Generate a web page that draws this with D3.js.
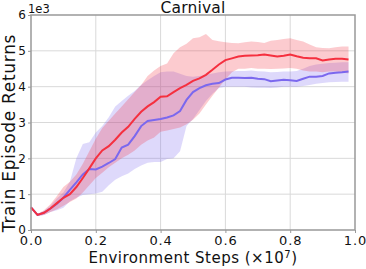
<!DOCTYPE html>
<html>
<head>
<meta charset="utf-8">
<script src="https://cdn.jsdelivr.net/npm/d3@7"></script>
<style>
  html, body { margin: 0; padding: 0; background: #fff; }
  svg { display: block; font-family: 'DejaVu Sans', sans-serif; }
</style>
</head>
<body>
<div id="chart"></div>
<script>
// Environment steps (x 1e7)
const steps = d3.range(50).map(i => +(i * 0.02).toFixed(2));

// Returns in thousands (axis carries the 1e3 offset)
const redMean = [0.63, 0.42, 0.48, 0.60, 0.75, 0.90, 1.00, 1.20, 1.45, 1.72,
  2.00, 2.22, 2.34, 2.52, 2.72, 2.88, 3.10, 3.30, 3.45, 3.57,
  3.72, 3.73, 3.85, 3.96, 4.05, 4.16, 4.23, 4.33, 4.47, 4.62,
  4.74, 4.79, 4.84, 4.86, 4.87, 4.88, 4.90, 4.87, 4.84, 4.86,
  4.90, 4.85, 4.81, 4.79, 4.79, 4.73, 4.76, 4.78, 4.78, 4.76];
const redLow = [0.60, 0.39, 0.42, 0.50, 0.58, 0.68, 0.78, 0.88, 1.05, 1.25,
  1.45, 1.60, 1.75, 1.88, 2.00, 2.10, 2.22, 2.38, 2.50, 2.58,
  2.74, 2.78, 2.82, 2.86, 2.95, 3.08, 3.25, 3.50, 3.75, 3.98,
  4.20, 4.40, 4.50, 4.50, 4.52, 4.50, 4.50, 4.49, 4.50, 4.51,
  4.52, 4.50, 4.45, 4.42, 4.42, 4.40, 4.42, 4.42, 4.40, 4.37];
const redHigh = [0.66, 0.45, 0.55, 0.72, 0.95, 1.20, 1.35, 1.55, 1.85, 2.20,
  2.55, 2.85, 3.05, 3.25, 3.45, 3.65, 3.85, 4.05, 4.30, 4.45,
  4.58, 4.65, 4.93, 5.10, 5.20, 5.35, 5.38, 5.47, 5.30, 5.27,
  5.24, 5.22, 5.21, 5.24, 5.26, 5.25, 5.22, 5.28, 5.30, 5.33,
  5.35, 5.30, 5.26, 5.18, 5.10, 5.08, 5.07, 5.10, 5.12, 5.12];

const blueMean = [0.63, 0.42, 0.48, 0.60, 0.73, 0.90, 1.12, 1.33, 1.55, 1.70,
  1.69, 1.77, 1.87, 1.98, 2.30, 2.38, 2.62, 2.90, 3.04, 3.07,
  3.10, 3.14, 3.20, 3.32, 3.63, 3.85, 3.96, 4.04, 4.08, 4.10,
  4.20, 4.25, 4.25, 4.24, 4.25, 4.22, 4.21, 4.15, 4.17, 4.19,
  4.18, 4.16, 4.22, 4.28, 4.28, 4.30, 4.37, 4.39, 4.40, 4.42];
const blueLow = [0.60, 0.39, 0.42, 0.50, 0.55, 0.62, 0.80, 0.90, 0.98, 1.00,
  1.02, 1.07, 1.25, 1.40, 1.50, 1.58, 1.70, 1.80, 1.88, 1.90,
  1.90, 1.98, 2.00, 2.20, 2.90, 3.10, 3.35, 3.60, 3.80, 3.96,
  4.00, 4.00, 4.00, 4.00, 3.98, 3.97, 3.97, 3.96, 3.98, 4.00,
  4.00, 4.00, 4.02, 4.05, 4.08, 4.10, 4.12, 4.13, 4.14, 4.14];
const blueHigh = [0.66, 0.45, 0.52, 0.68, 0.88, 1.05, 1.35, 2.00, 2.40, 2.45,
  2.72, 2.90, 3.15, 3.45, 3.60, 3.75, 3.88, 4.05, 4.18, 4.30,
  4.40, 4.42, 4.42, 4.36, 4.30, 4.28, 4.30, 4.33, 4.37, 4.40,
  4.42, 4.43, 4.44, 4.44, 4.45, 4.43, 4.42, 4.40, 4.41, 4.42,
  4.42, 4.44, 4.50, 4.58, 4.62, 4.64, 4.66, 4.67, 4.68, 4.68];

const xTicks = [0, 0.2, 0.4, 0.6, 0.8, 1.0];
const yTicks = [0, 1, 2, 3, 4, 5, 6];

const W = 366, H = 269;
const margin = { top: 15, right: 11, bottom: 39, left: 31 };
const width = W - margin.left - margin.right;
const height = H - margin.top - margin.bottom;

const svg = d3.select('#chart').append('svg')
  .attr('width', W)
  .attr('height', H);

const g = svg.append('g')
  .attr('transform', `translate(${margin.left},${margin.top})`);

const x = d3.scaleLinear().domain([0, 1]).range([0, width]);
const y = d3.scaleLinear().domain([0, 6]).range([height, 0]);

// Grid
g.append('g').selectAll('line').data(xTicks.slice(1, -1)).join('line')
  .attr('x1', d => x(d)).attr('x2', d => x(d))
  .attr('y1', 0).attr('y2', height)
  .attr('stroke', '#d9d9d9').attr('stroke-width', 1);
g.append('g').selectAll('line').data(yTicks.slice(1, -1)).join('line')
  .attr('y1', d => y(d)).attr('y2', d => y(d))
  .attr('x1', 0).attr('x2', width)
  .attr('stroke', '#d9d9d9').attr('stroke-width', 1);

function band(low, high) {
  return d3.area()
    .x((d, i) => x(steps[i]))
    .y0((d, i) => y(low[i]))
    .y1((d, i) => y(high[i]))(steps);
}
function line(vals) {
  return d3.line()
    .x((d, i) => x(steps[i]))
    .y((d, i) => y(vals[i]))(steps);
}

const red = '#f5303f', blue = '#7b68ee';

g.append('path').attr('d', band(blueLow, blueHigh))
  .attr('fill', blue).attr('fill-opacity', 0.25);
g.append('path').attr('d', band(redLow, redHigh))
  .attr('fill', red).attr('fill-opacity', 0.25);
g.append('path').attr('d', line(blueMean))
  .attr('fill', 'none').attr('stroke', blue).attr('stroke-width', 2);
g.append('path').attr('d', line(redMean))
  .attr('fill', 'none').attr('stroke', red).attr('stroke-width', 2);

// Axes
const xAxis = g.append('g')
  .attr('transform', `translate(0,${height})`)
  .call(d3.axisBottom(x).tickValues(xTicks).tickFormat(d3.format('.1f')).tickSize(3).tickPadding(3));
const yAxis = g.append('g')
  .call(d3.axisLeft(y).tickValues(yTicks).tickFormat(d3.format('d')).tickSize(3).tickPadding(2));

[xAxis, yAxis].forEach(a => {
  a.select('.domain').remove();
  a.selectAll('line').attr('stroke', '#999');
  a.selectAll('text').attr('fill', '#111')
    .style('font-family', "'DejaVu Sans', sans-serif");
});
xAxis.selectAll('text').style('font-size', '13px').style('letter-spacing', '0.9px');
yAxis.selectAll('text').style('font-size', '12px');

// Frame
g.append('rect')
  .attr('width', width).attr('height', height)
  .attr('fill', 'none').attr('stroke', '#999').attr('stroke-width', 1.5);

// Labels
svg.append('text')
  .attr('x', 193).attr('y', 13)
  .attr('text-anchor', 'middle')
  .style('font-size', '15.5px').style('letter-spacing', '0.2px').attr('fill', '#111')
  .text('Carnival');

svg.append('text')
  .attr('x', 28).attr('y', 12.5)
  .style('font-size', '11.5px').attr('fill', '#111')
  .text('1e3');

svg.append('text')
  .attr('x', 193).attr('y', 263)
  .attr('text-anchor', 'middle')
  .style('font-size', '15px').style('letter-spacing', '0.5px').attr('fill', '#111')
  .html('Environment Steps (×10<tspan dy="-5" font-size="10px">7</tspan><tspan dy="5">)</tspan>');

svg.append('text')
  .attr('transform', 'translate(15,133) rotate(-90)')
  .attr('text-anchor', 'middle')
  .style('font-size', '17px').style('letter-spacing', '0.7px').attr('fill', '#111')
  .text('Train Episode Returns');
</script>
</body>
</html>
